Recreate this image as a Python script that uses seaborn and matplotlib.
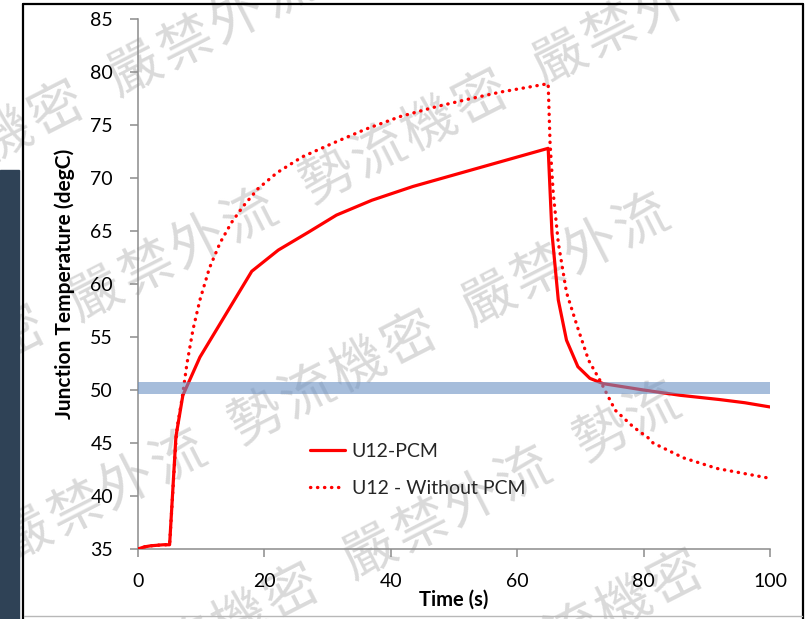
import numpy as np
import pandas as pd
import matplotlib
matplotlib.use("Agg")
import matplotlib.pyplot as plt
import seaborn as sns
from matplotlib.lines import Line2D
from matplotlib.patches import Rectangle

# ---------------- data ----------------
pcm_time = [0, 1, 2, 3, 4, 5.0, 6.0, 7.1, 9.8, 18.0, 22.2, 27.0, 31.4, 37.0,
            43.5, 53.6, 64.9, 65.5, 66.5, 67.8, 69.6, 71.5, 73.6, 80.0,
            85.8, 92.0, 96.0, 100]
pcm_temp = [35.0, 35.2, 35.3, 35.35, 35.4, 35.4, 45.6, 49.5, 53.1, 61.2, 63.2,
            64.9, 66.5, 67.9, 69.2, 70.9, 72.8, 64.8, 58.5, 54.7, 52.2, 51.1,
            50.6, 50.0, 49.5, 49.1, 48.8, 48.4]

nopcm_time = [0, 1, 2, 3, 4, 5.0, 6.0, 6.2, 7.0, 7.75, 8.7, 9.8, 11.3, 13.0,
              14.8, 16.6, 19.0, 22.0, 26.0, 30.9, 36.0, 41.5, 47.0, 52.0, 57.3,
              64.9, 65.2, 65.7, 66.5, 67.8, 69.5, 71.3, 73.1, 75.5, 78.4, 80.7,
              81.5, 86.3, 91.6, 99.7, 100]
nopcm_temp = [35.0, 35.2, 35.3, 35.35, 35.4, 35.4, 45.2, 46.5, 49.3, 52.5, 55.7,
              58.5, 61.5, 63.9, 65.8, 67.3, 69.0, 70.5, 72.0, 73.3, 74.6, 75.8,
              76.7, 77.4, 78.1, 78.9, 73.3, 68.6, 63.9, 59.2, 56.0, 52.8, 50.9,
              48.1, 46.5, 45.5, 45.0, 43.6, 42.6, 41.7, 41.7]

series_labels = ["U12-PCM", "U12 - Without PCM"]
threshold_band = [49.6, 50.8]
x_ticks = [0, 20, 40, 60, 80, 100]
y_ticks = [35, 40, 45, 50, 55, 60, 65, 70, 75, 80, 85]
x_label = "Time (s)"
y_label = "Junction Temperature (degC)"
watermark_chars = ["嚴", "禁", "外", "流", "勢", "流", "機", "密"]

# ---------------- style ----------------
sns.set_theme(style="white")
plt.rcParams["font.family"] = ["Lato", "DejaVu Sans"]

W, H = 806, 619
fig = plt.figure(figsize=(W / 100, H / 100), dpi=100)
fig.patch.set_facecolor("white")

ax = fig.add_axes([138 / W, 1 - 549 / H, (770 - 138) / W, (549 - 19) / H])
ax.patch.set_alpha(0)

df_pcm = pd.DataFrame({"t": pcm_time, "T": pcm_temp})
df_no = pd.DataFrame({"t": nopcm_time, "T": nopcm_temp})

sns.lineplot(data=df_no, x="t", y="T", ax=ax, color="#ff0000", lw=2.4,
             linestyle=(0, (0.1, 2.0)), sort=False, estimator=None,
             label=series_labels[1], zorder=3)
ax.lines[-1].set_dash_capstyle("round")
sns.lineplot(data=df_pcm, x="t", y="T", ax=ax, color="#ff0000", lw=2.3,
             sort=False, estimator=None, label=series_labels[0], zorder=4)

ax.axhspan(threshold_band[0], threshold_band[1], color=(107 / 255, 145 / 255, 195 / 255),
           alpha=0.6, lw=0, zorder=5)

ax.set_xlim(0, 100)
ax.set_ylim(35, 85)
ax.set_xticks(x_ticks)
ax.set_yticks(y_ticks)
for s in ["top", "right"]:
    ax.spines[s].set_visible(False)
for s in ["left", "bottom"]:
    ax.spines[s].set_color("#8c8c8c")
    ax.spines[s].set_linewidth(1.1)
ax.tick_params(axis="both", which="major", direction="out", length=6,
               width=1.1, color="#8c8c8c", labelsize=14, labelcolor="black",
               bottom=True, left=True)
ax.tick_params(axis="x", pad=11)
ax.tick_params(axis="y", pad=12)
ax.set_xlabel(x_label, fontsize=14.5, fontweight="bold", labelpad=0, color="black")
ax.set_ylabel(y_label, fontsize=15, fontweight="bold", labelpad=11, color="black")
ax.grid(False)

handles = [Line2D([], [], color="#ff0000", lw=2.3),
           Line2D([], [], color="#ff0000", lw=2.4, linestyle=(0, (0.1, 2.0)),
                  dash_capstyle="round")]
leg = ax.legend(handles, series_labels, loc="center left",
                bbox_to_anchor=((310 - 138) / 632, (549 - 470) / 530),
                frameon=False, fontsize=14, handlelength=1.8,
                handletextpad=0.35, labelspacing=1.05, borderpad=0,
                borderaxespad=0)

# ---------------- watermark ----------------
ang = 27.0
u = np.array([np.cos(np.radians(ang)), -np.sin(np.radians(ang))])
pitch, gap = 57.5, 30.0
offsets = [i * pitch + (gap if i >= 4 else 0) for i in range(8)]
period = 8 * pitch + 2 * gap
row_anchors = [(135, 70), (96, 295), (25, 536), (370, 553), (291, 775)]
for ax0, ay0 in row_anchors:
    for k in range(-3, 4):
        for i, ch in enumerate(watermark_chars):
            p = np.array([ax0, ay0]) + (offsets[i] + k * period) * u
            if -40 < p[0] < 695 and -40 < p[1] < H + 40:
                fig.text(p[0] / W, 1 - p[1] / H, ch, fontsize=39, color="#dadada",
                         ha="center", va="center", rotation=ang,
                         rotation_mode="anchor", zorder=-1,
                         family=["Noto Sans CJK TC", "DejaVu Sans"])

# ---------------- screenshot frame ----------------
fig.patches.append(Rectangle((0, 0), 19 / W, (H - 170) / H, transform=fig.transFigure,
                             color="#2f4256", zorder=10))
fig.lines.append(Line2D([23 / W, 23 / W], [0, 1 - 4 / H], transform=fig.transFigure,
                        color="black", lw=1.6, zorder=10))
fig.lines.append(Line2D([23 / W, 803 / W], [1 - 4 / H, 1 - 4 / H], transform=fig.transFigure,
                        color="black", lw=1.6, zorder=10))
fig.lines.append(Line2D([803 / W, 803 / W], [0, 1 - 4 / H], transform=fig.transFigure,
                        color="black", lw=1.6, zorder=10))
fig.lines.append(Line2D([24 / W, 802 / W], [1 - 616 / H, 1 - 616 / H], transform=fig.transFigure,
                        color="#b8b8b8", lw=1.0, zorder=10))

fig.savefig("out.png", dpi=100)
